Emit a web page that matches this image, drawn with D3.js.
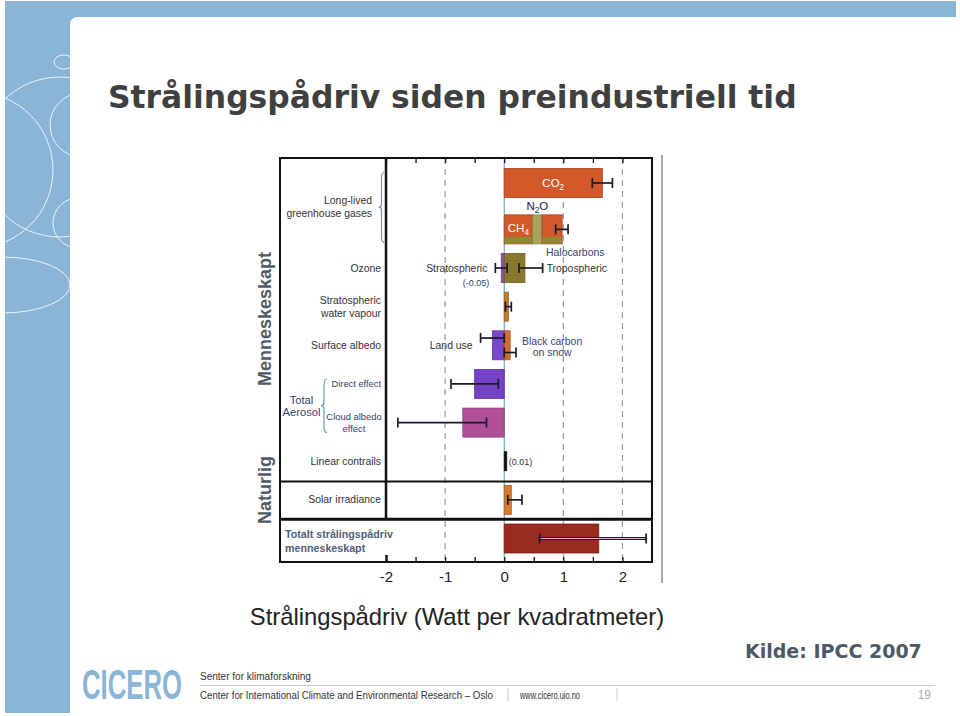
<!DOCTYPE html>
<html><head><meta charset="utf-8">
<script src="https://cdn.jsdelivr.net/npm/d3@7"></script>
<style>body{margin:0;background:#fff}svg{display:block}</style>
</head><body>
<svg id="c" width="960" height="716"></svg>
<script>
(function(){
// ---------------- DATA ----------------
const rowKeys = ["co2","ghg","ozone","swv","albedo","aerDirect","aerCloud","contrails","solar","total"];
const barKeys   = ["CO2","CH4","N2O","Halocarbons","StratO3","TropO3","StratH2O","LandUse","BlackCarbon","DirectAer","CloudAlbedo","Contrails","Solar","Total"];
const barRows   = ["co2","ghg","ghg","ghg","ozone","ozone","swv","albedo","albedo","aerDirect","aerCloud","contrails","solar","total"];
const barValues = [1.66, 0.48, 0.16, 0.34, -0.05, 0.35, 0.07, -0.20, 0.10, -0.50, -0.70, 0.01, 0.12, 1.60];
const errLow    = [1.49, null, null, 0.87, -0.15, 0.25, 0.02, -0.40, 0.00, -0.90, -1.80, null, 0.06, 0.60];
const errHigh   = [1.83, null, null, 1.08, 0.05, 0.65, 0.12, 0.00, 0.20, -0.10, -0.30, null, 0.30, 2.40];
const axisLabels = [-2, -1, 0, 1, 2];
const minorTicks = [-1.5, -0.5, 0.5, 1.5];
const gridValues = [-1, 1, 2];
const xDomain = [-2, 2.5];

// ---------------- STYLE / LAYOUT ----------------
const colors = {CO2:"#d3582a",CH4:"#d3582a",N2O:"#aaa45a",Halocarbons:"#d3582a",StratO3:"#8a50c4",TropO3:"#8a782c",
  StratH2O:"#c57a30",LandUse:"#7a46cc",BlackCarbon:"#d26f2c",DirectAer:"#7342c6",CloudAlbedo:"#b04f9a",Contrails:"#111",
  Solar:"#d97a2e",Total:"#9a2b1f"};
const stripe = {CH4:"#8e8a34", Halocarbons:"#8e8a34"};
const errLane = {LandUse:-0.25, BlackCarbon:0.25};
const rowGapBefore = {ghg:1.2};

const svg = d3.select("#c");
const W = 960, H = 716;
const blue = "#8ab5d7";

// slide background
svg.append("rect").attr("x",0).attr("y",0).attr("width",W).attr("height",H).attr("fill","#fff");
svg.append("rect").attr("x",5).attr("y",1).attr("width",951).attr("height",16).attr("fill",blue);
svg.append("rect").attr("x",5).attr("y",1).attr("width",70).attr("height",712).attr("fill",blue);
svg.append("path").attr("fill","#fff")
  .attr("d","M70,25 Q70,17 78,17 L960,17 L960,716 L70,716 Z");
const clip = svg.append("defs").append("clipPath").attr("id","strip");
clip.append("rect").attr("x",5).attr("y",17).attr("width",65).attr("height",696);
const deco = svg.append("g").attr("clip-path","url(#strip)").attr("fill","none").attr("stroke","#fff").attr("stroke-width",1).attr("opacity",0.85);
deco.append("ellipse").attr("cx",64).attr("cy",62).attr("rx",10).attr("ry",7);
deco.append("circle").attr("cx",60).attr("cy",157).attr("r",80);
deco.append("circle").attr("cx",-25).attr("cy",170).attr("r",78);
deco.append("circle").attr("cx",82).attr("cy",125).attr("r",32);
deco.append("circle").attr("cx",78).attr("cy",223).attr("r",25);
deco.append("ellipse").attr("cx",2).attr("cy",285).attr("rx",68).attr("ry",28);

// title
svg.append("text").attr("x",108).attr("y",108)
  .attr("font-family","'DejaVu Sans', Verdana, sans-serif").attr("font-weight","bold").attr("font-size",31.4)
  .attr("fill","#404040").text("Strålingspådriv siden preindustriell tid");

// ---------------- CHART ----------------
const pLeft = 280, divX = 386, pRight = 652, pTop = 158, pBottom = 562;
const x = d3.scaleLinear().domain(xDomain).range([divX, pRight]);

let acc = 0; const rowPos = {};
rowKeys.forEach((k,i)=>{ if(i>0) acc += (rowGapBefore[k]||1); rowPos[k]=acc; });
const yLin = d3.scaleLinear().domain([0, acc]).range([183, 538.5]);
const y = k => yLin(rowPos[k]);
const bh = 29;

const posAcc = {}, negAcc = {};
const bars = barKeys.map((k,i)=>{
  const r = barRows[i], v = barValues[i];
  let x0, x1;
  if (v >= 0) { x0 = posAcc[r]||0; x1 = x0 + v; posAcc[r] = x1; }
  else { x1 = negAcc[r]||0; x0 = x1 + v; negAcc[r] = x0; }
  return {key:k,row:r,v,x0,x1,lo:errLow[i],hi:errHigh[i]};
});

const chart = svg.append("g");
chart.append("line").attr("x1",662).attr("x2",662).attr("y1",155).attr("y2",583).attr("stroke","#555").attr("stroke-width",1);

chart.selectAll(".grid").data(gridValues).join("line")
  .attr("x1",d=>x(d)).attr("x2",d=>x(d)).attr("y1",pTop).attr("y2",pBottom)
  .attr("stroke","#9a9a9a").attr("stroke-width",1.2).attr("stroke-dasharray","6,5");
chart.append("line").attr("x1",x(0)).attr("x2",x(0)).attr("y1",pTop).attr("y2",pBottom)
  .attr("stroke","#4a9fb3").attr("stroke-width",1);

const bg = chart.append("g");
bars.forEach(b=>{
  const h = b.key==="Contrails" ? 19 : bh;
  const yt = y(b.row) - h/2;
  let xa = x(b.x0), xb = x(b.x1);
  if (xb - xa < 2.5) { xb = xa + 2.5; }
  bg.append("rect").attr("x",xa).attr("y",yt).attr("width",xb-xa).attr("height",h)
    .attr("fill",colors[b.key]).attr("stroke",d3.color(colors[b.key]).darker(0.7)).attr("stroke-width",0.8);
  if (stripe[b.key]) {
    bg.append("rect").attr("x",xa+0.4).attr("y",yt+h*0.76).attr("width",xb-xa-0.8).attr("height",h*0.24-0.4)
      .attr("fill",stripe[b.key]);
  }
});

const eg = chart.append("g");
bars.filter(b=>b.lo!==null).forEach(b=>{
  const yy = y(b.row) + (errLane[b.key]||0)*bh;
  const isTotal = b.key==="Total";
  eg.append("line").attr("x1",x(b.lo)).attr("x2",x(b.hi)).attr("y1",yy).attr("y2",yy)
    .attr("stroke","#1a1a2a").attr("stroke-width",isTotal?3:1.7);
  if (isTotal) eg.append("line").attr("x1",x(b.lo)).attr("x2",x(b.hi)).attr("y1",yy).attr("y2",yy)
    .attr("stroke","#e6b8c8").attr("stroke-width",1);
  [b.lo,b.hi].forEach(v=>{
    eg.append("line").attr("x1",x(v)).attr("x2",x(v)).attr("y1",yy-5).attr("y2",yy+5)
      .attr("stroke","#1a1a2a").attr("stroke-width",1.7);
  });
});

const sep1 = (y("contrails")+y("solar"))/2 + 1, sep2 = (y("solar")+y("total"))/2;
chart.append("rect").attr("x",pLeft).attr("y",pTop).attr("width",pRight-pLeft).attr("height",pBottom-pTop)
  .attr("fill","none").attr("stroke","#111").attr("stroke-width",2);
chart.append("line").attr("x1",divX).attr("x2",divX).attr("y1",pTop).attr("y2",sep2).attr("stroke","#111").attr("stroke-width",2.5);
chart.append("line").attr("x1",pLeft).attr("x2",pRight).attr("y1",sep1).attr("y2",sep1).attr("stroke","#111").attr("stroke-width",2);
chart.append("line").attr("x1",pLeft).attr("x2",pRight).attr("y1",sep2).attr("y2",sep2).attr("stroke","#111").attr("stroke-width",3);

const tickAll = axisLabels.concat(minorTicks).sort((a,b)=>a-b);
const ax = chart.append("g").attr("transform",`translate(0,${pBottom})`)
  .call(d3.axisBottom(x).tickValues(tickAll).tickSize(-5).tickFormat(d=>Number.isInteger(d)?String(d):""));
ax.select(".domain").remove();
ax.selectAll("line").attr("stroke","#111").attr("stroke-width",1.3);
ax.selectAll(".tick").filter(d=>d===xDomain[0]).select("line").attr("stroke-width",2.5).attr("y2",-7);
ax.selectAll("text").attr("y",20).attr("dy",null).attr("font-size",15)
  .attr("font-family","'Liberation Sans', Arial, sans-serif").attr("fill","#222");
const axT = chart.append("g").attr("transform",`translate(0,${pTop})`)
  .call(d3.axisTop(x).tickValues(minorTicks.concat(axisLabels)).tickSize(-5).tickFormat(""));
axT.select(".domain").remove();
axT.selectAll("line").attr("stroke","#111").attr("stroke-width",1.3);

svg.append("text").attr("x",457).attr("y",625).attr("text-anchor","middle")
  .attr("font-family","'Liberation Sans', Arial, sans-serif").attr("font-size",23.8).attr("fill","#222")
  .text("Strålingspådriv (Watt per kvadratmeter)");

const FF = "'Liberation Sans', Arial, sans-serif";
function txt(xx, yy, s, opts={}) {
  const t = chart.append("text").attr("x",xx).attr("y",yy)
    .attr("font-family",FF).attr("font-size",opts.size||10.4)
    .attr("fill",opts.fill||"#333").attr("text-anchor",opts.anchor||"end");
  if (opts.bold) t.attr("font-weight","bold");
  if (opts.sub) {
    t.append("tspan").text(s);
    t.append("tspan").attr("dy",3).attr("font-size",(opts.size||10.4)*0.72).text(opts.sub);
    if (opts.after) t.append("tspan").attr("dy",-3).text(opts.after);
  } else t.text(s);
  return t;
}
const blueTxt = "#33446c";
const lx = 381;
const ymid01 = (y("co2")+y("ghg"))/2;
txt(372, ymid01-2.5, "Long-lived");
txt(372, ymid01+10.5, "greenhouse gases");
txt(lx, y("ozone")+4, "Ozone");
txt(lx, y("swv")-2.5, "Stratospheric");
txt(lx, y("swv")+10.5, "water vapour");
txt(lx, y("albedo")+4, "Surface albedo");
txt(lx, y("aerDirect")+3, "Direct effect", {fill:blueTxt, size:9.3});
txt(354, y("aerCloud")-2.5, "Cloud albedo", {fill:blueTxt, anchor:"middle", size:9.4});
txt(354, y("aerCloud")+9, "effect", {fill:blueTxt, anchor:"middle", size:9.4});
const ymidAer = (y("aerDirect")+y("aerCloud"))/2;
txt(301.5, ymidAer+0.5, "Total", {fill:blueTxt, anchor:"middle", size:11.2});
txt(301.5, ymidAer+13, "Aerosol", {fill:blueTxt, anchor:"middle", size:11.2});
txt(lx, y("contrails")+4, "Linear contrails");
txt(lx, y("solar")+3, "Solar irradiance");
txt(285, y("total")-0.5, "Totalt strålingspådriv", {anchor:"start", bold:true, fill:"#50607a", size:10.7});
txt(285, y("total")+13.5, "menneskeskapt", {anchor:"start", bold:true, fill:"#50607a", size:10.7});

function brace(cx, y1, y2, w, color) {
  const ym = (y1+y2)/2, xm = cx + w/2;
  chart.append("path").attr("fill","none").attr("stroke",color).attr("stroke-width",1.1)
    .attr("d",`M${cx+w},${y1} Q${xm},${y1} ${xm},${y1+w} L${xm},${ym-w/2} Q${xm},${ym} ${cx},${ym} Q${xm},${ym} ${xm},${ym+w/2} L${xm},${y2-w} Q${xm},${y2} ${cx+w},${y2}`);
}
brace(378.5, y("co2")-11, y("ghg")+13, 6, "#7c8aa0");
brace(321, y("aerDirect")-5, y("aerCloud")+10, 6, "#4e9ea0");

const B = k => bars.find(b=>b.key===k);
const co2 = B("CO2"), ch4 = B("CH4"), n2o = B("N2O"), halo = B("Halocarbons");
txt(x((co2.x0+co2.x1)/2), y("co2")+4, "CO", {anchor:"middle", fill:"#fff", size:11.5, sub:"2"});
txt(x((n2o.x0+n2o.x1)/2), y("ghg")-bh/2-5, "N", {anchor:"middle", fill:"#222", size:11.5, sub:"2", after:"O"});
txt(x((ch4.x0+ch4.x1)/2), y("ghg")+3, "CH", {anchor:"middle", fill:"#fff", size:11.5, sub:"4"});
txt(x(halo.x0)+4, y("ghg")+bh/2+12, "Halocarbons", {anchor:"start", fill:blueTxt});
const so3 = B("StratO3"), to3 = B("TropO3");
txt(x(so3.lo)-8, y("ozone")+4, "Stratospheric");
txt(x(so3.lo)-6, y("ozone")+17.5, "(-0.05)", {size:9, fill:blueTxt});
txt(x(to3.hi)+4, y("ozone")+4, "Tropospheric", {anchor:"start"});
const lu = B("LandUse"), bc = B("BlackCarbon");
txt(x(lu.lo)-8, y("albedo")+3.5, "Land use");
txt(x(bc.x1)+42, y("albedo")-0.5, "Black carbon", {anchor:"middle", fill:blueTxt});
txt(x(bc.x1)+42, y("albedo")+10.5, "on snow", {anchor:"middle", fill:blueTxt});
txt(x(B("Contrails").x1)+4, y("contrails")+4, "(0.01)", {anchor:"start", size:9});

const sideF = "'Liberation Sans', Arial, sans-serif";
svg.append("text").attr("transform","translate(271,319) rotate(-90)").attr("text-anchor","middle")
  .attr("font-family",sideF).attr("font-weight","bold").attr("font-size",18).attr("fill","#4d5b68").text("Menneskeskapt");
svg.append("text").attr("transform","translate(271,490) rotate(-90)").attr("text-anchor","middle")
  .attr("font-family",sideF).attr("font-weight","bold").attr("font-size",18).attr("fill","#4d5b68").text("Naturlig");

svg.append("text").attr("x",745).attr("y",658)
  .attr("font-family","'DejaVu Sans', Verdana, sans-serif").attr("font-weight","bold").attr("font-size",19)
  .attr("fill","#4d5a66").text("Kilde: IPCC 2007");

const NF = "'Liberation Sans Narrow','Liberation Sans',sans-serif";
function fitText(xx, yy, s, width, size, opts={}) {
  const t = svg.append("text").attr("x",0).attr("y",0).attr("font-family",NF).attr("font-size",size)
    .attr("fill",opts.fill||"#333").text(s);
  if (opts.bold) t.attr("font-weight","bold");
  const nat = t.node().getComputedTextLength() || width;
  t.attr("transform",`translate(${xx},${yy}) scale(${width/nat},1)`);
  return t;
}
fitText(82, 699, "CICERO", 100, 42, {bold:true, fill:blue});
fitText(200, 680, "Senter for klimaforskning", 111, 11.5);
svg.append("line").attr("x1",200).attr("x2",935).attr("y1",685.5).attr("y2",685.5).attr("stroke","#c8c8c8").attr("stroke-width",1.2);
fitText(200, 698.5, "Center for International Climate and Environmental Research – Oslo", 293, 11.5);
[508,617].forEach(xx=>svg.append("line").attr("x1",xx).attr("x2",xx).attr("y1",688).attr("y2",701).attr("stroke","#c8c8c8"));
fitText(520, 698.5, "www.cicero.uio.no", 60, 11.5);
svg.append("text").attr("x",931).attr("y",699).attr("text-anchor","end").attr("font-family",FF).attr("font-size",12)
  .attr("fill","#aaa").text("19");
})();
</script>
</body></html>
